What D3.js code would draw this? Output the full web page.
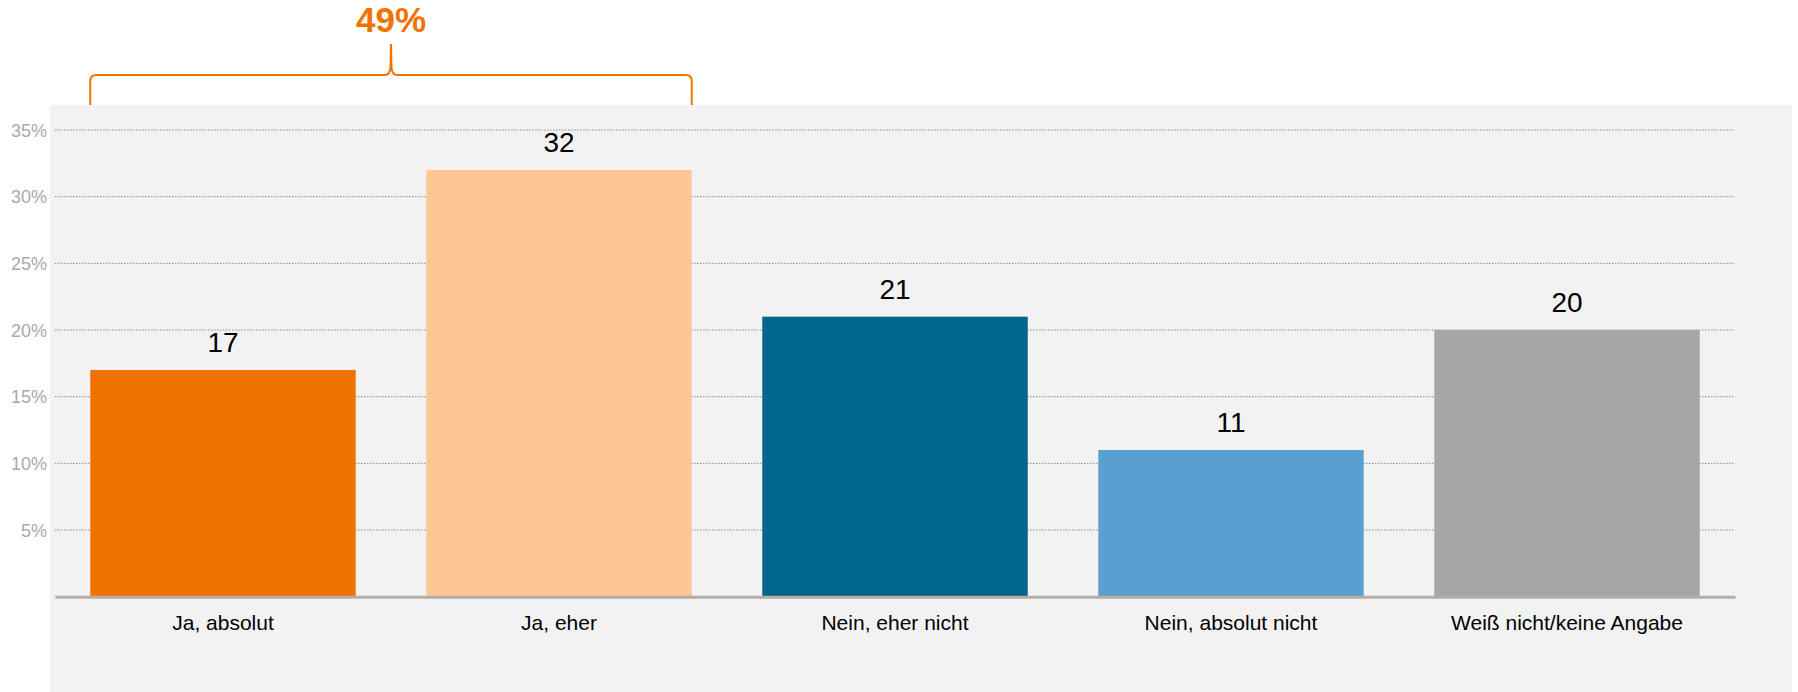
<!DOCTYPE html>
<html>
<head>
<meta charset="utf-8">
<script src="https://cdn.jsdelivr.net/npm/d3@7"></script>
<style>
  body { margin: 0; background: #fff; }
  svg { display: block; font-family: "Liberation Sans", Arial, sans-serif; }
</style>
</head>
<body>
<svg id="chart" width="1798" height="692"></svg>
<script>
const categories = ["Ja, absolut", "Ja, eher", "Nein, eher nicht", "Nein, absolut nicht", "Weiß nicht/keine Angabe"];
const values = [17, 32, 21, 11, 20];
const barColors = ["#f07300", "#fdc795", "#00668c", "#57a0cf", "#a6a6a6"];
const yTicks = [5, 10, 15, 20, 25, 30, 35];
const bracketGroup = ["Ja, absolut", "Ja, eher"];
const bracketLabel = "49%";

const svg = d3.select("#chart");

// grey plot panel
svg.append("rect")
    .attr("x", 50).attr("y", 105)
    .attr("width", 1742).attr("height", 587)
    .attr("fill", "#f2f2f2");

const x = d3.scaleBand()
    .domain(categories)
    .range([55, 1735])
    .paddingInner(0.21)
    .paddingOuter(0.105);

const y = d3.scaleLinear()
    .domain([0, 35])
    .range([596.7, 130]);

// dotted gridlines
svg.append("g")
    .selectAll("line")
    .data(yTicks)
    .join("line")
        .attr("x1", 55).attr("x2", 1735)
        .attr("y1", d => y(d)).attr("y2", d => y(d))
        .attr("stroke", "#8c8c8c")
        .attr("stroke-width", 1)
        .attr("stroke-dasharray", "1.5,1.5");

// y axis labels
const yAxis = d3.axisLeft(y)
    .tickValues(yTicks)
    .tickFormat(d => d + "%")
    .tickSize(0)
    .tickPadding(0);
svg.append("g")
    .attr("transform", "translate(47,0)")
    .call(yAxis)
    .call(g => g.select(".domain").remove())
    .call(g => g.selectAll("text")
        .attr("fill", "#a9a9a9")
        .attr("font-size", "18px")
        .attr("font-family", "Liberation Sans, Arial, sans-serif")
        .attr("dy", "0.35em"));

// bars
svg.append("g")
    .selectAll("rect")
    .data(values)
    .join("rect")
        .attr("x", (d, i) => x(categories[i]))
        .attr("y", d => y(d))
        .attr("width", x.bandwidth())
        .attr("height", d => y(0) - y(d))
        .attr("fill", (d, i) => barColors[i]);

// value labels
svg.append("g")
    .selectAll("text")
    .data(values)
    .join("text")
        .attr("x", (d, i) => x(categories[i]) + x.bandwidth() / 2)
        .attr("y", d => y(d) - 18)
        .attr("text-anchor", "middle")
        .attr("font-size", "28px")
        .attr("fill", "#000")
        .text(d => d);

// baseline + category labels
const xAxis = d3.axisBottom(x).tickSize(0).tickPadding(0);
svg.append("g")
    .attr("transform", `translate(0,${y(0)})`)
    .call(xAxis)
    .call(g => g.select(".domain")
        .attr("stroke", "#b5aca2")
        .attr("stroke-width", 3))
    .call(g => g.selectAll("text")
        .attr("fill", "#000")
        .attr("font-size", "21px")
        .attr("font-family", "Liberation Sans, Arial, sans-serif")
        .attr("dy", 0)
        .attr("y", 33));

// curly bracket over the "Ja" bars
const bx0 = x(bracketGroup[0]);
const bx1 = x(bracketGroup[1]) + x.bandwidth();
const bmid = (bx0 + bx1) / 2;
const bBottom = 105, bLine = 75, bTip = 44, r = 6;
const path = d3.path();
path.moveTo(bx0, bBottom);
path.lineTo(bx0, bLine + r);
path.quadraticCurveTo(bx0, bLine, bx0 + r, bLine);
path.lineTo(bmid - 6, bLine);
path.quadraticCurveTo(bmid - 1, bLine, bmid - 0.5, bLine - 8);
path.lineTo(bmid, bTip);
path.lineTo(bmid + 0.5, bLine - 8);
path.quadraticCurveTo(bmid + 1, bLine, bmid + 6, bLine);
path.lineTo(bx1 - r, bLine);
path.quadraticCurveTo(bx1, bLine, bx1, bLine + r);
path.lineTo(bx1, bBottom);
svg.append("path")
    .attr("d", path.toString())
    .attr("fill", "none")
    .attr("stroke", "#f07300")
    .attr("stroke-width", 2);

svg.append("text")
    .attr("x", bmid)
    .attr("y", 32)
    .attr("text-anchor", "middle")
    .attr("font-size", "35px")
    .attr("font-weight", "bold")
    .attr("fill", "#f07300")
    .text(bracketLabel);
</script>
</body>
</html>
